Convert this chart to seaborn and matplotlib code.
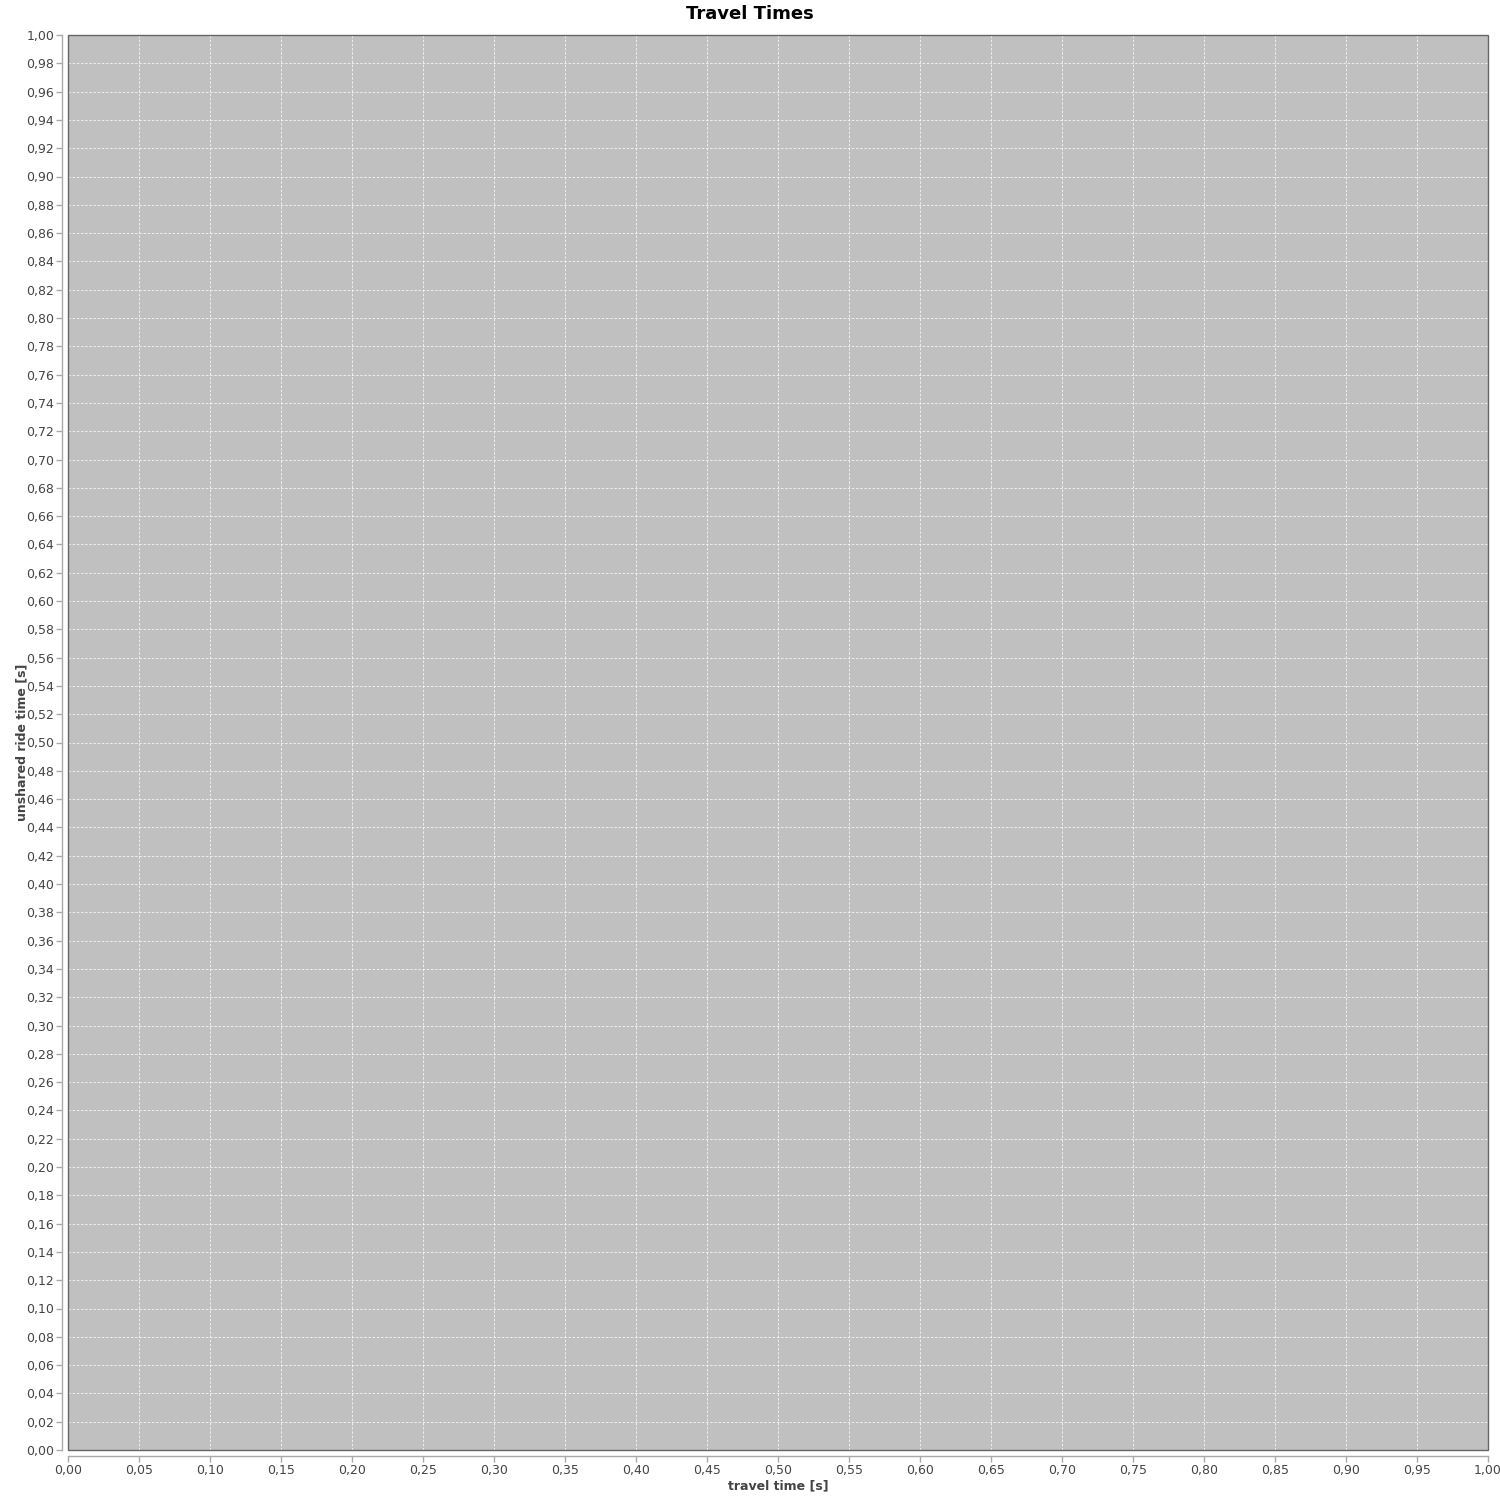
import matplotlib
matplotlib.use("Agg")
import matplotlib.pyplot as plt
import matplotlib.ticker as mticker
from matplotlib.patches import Rectangle
import numpy as np
import pandas as pd
import seaborn as sns

# Data (the reference chart is empty)
travel_time = []
unshared_ride_time = []
title = "Travel Times"
x_label = "travel time [s]"
y_label = "unshared ride time [s]"

sns.set_theme(style="white")
plt.rcParams['font.family'] = ['DejaVu Sans']

df = pd.DataFrame({"travel_time": pd.Series(travel_time, dtype=float),
                   "unshared_ride_time": pd.Series(unshared_ride_time, dtype=float)})

fig = plt.figure(figsize=(15, 15), dpi=100)
ax = fig.add_axes([68/1500, 1 - 1450/1500, (1488-68)/1500, (1450-35)/1500])
sns.scatterplot(data=df, x="travel_time", y="unshared_ride_time", ax=ax)

ax.set_facecolor("#C0C0C0")
ax.set_xlim(0, 1)
ax.set_ylim(0, 1)
ax.xaxis.set_major_locator(mticker.MultipleLocator(0.05))
ax.yaxis.set_major_locator(mticker.MultipleLocator(0.02))
fmt = mticker.FuncFormatter(lambda v, p: f"{v:.2f}".replace(".", ","))
ax.xaxis.set_major_formatter(fmt)
ax.yaxis.set_major_formatter(fmt)

ax.grid(True, color="white", linestyle=(0, (3, 2)), linewidth=0.6, alpha=0.85)
ax.set_axisbelow(True)

for s in ["left", "bottom"]:
    ax.spines[s].set_position(("outward", 4))
    ax.spines[s].set_color("#AAAAAA")
    ax.spines[s].set_linewidth(1.0)
for s in ["top", "right"]:
    ax.spines[s].set_visible(False)
ax.add_patch(Rectangle((0, 0), 1, 1, transform=ax.transAxes, fill=False,
                       edgecolor="#666666", linewidth=1.0, clip_on=False, zorder=5))

ax.tick_params(axis="both", which="major", direction="out", length=4, width=1,
               color="#AAAAAA", labelsize=9, labelcolor="#444444", pad=2,
               bottom=True, left=True)

ax.set_xlabel(x_label, fontsize=9, fontweight="bold", color="#444444", labelpad=1.5)
ax.set_ylabel(y_label, fontsize=9, fontweight="bold", color="#444444", labelpad=-1.5)
fig.text(750/1500, 1 - 14/1500, title, ha="center", va="center",
         fontsize=13, fontweight="bold", color="black")

fig.savefig("out.png", dpi=100, facecolor="white")
